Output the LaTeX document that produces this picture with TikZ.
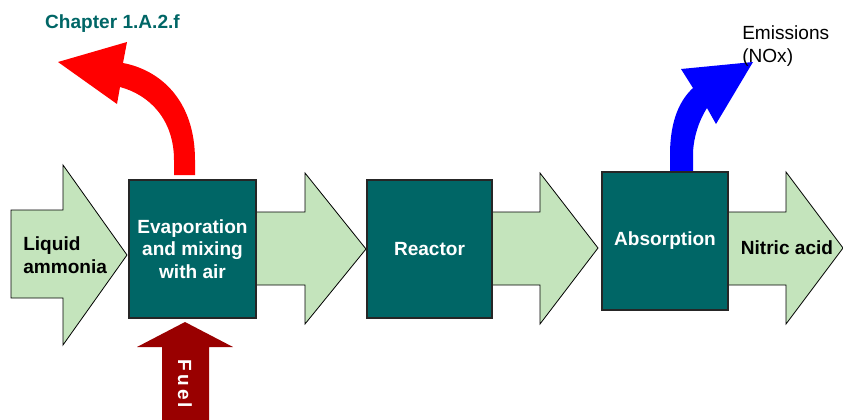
\documentclass[tikz,border=0pt]{standalone}
\usepackage{fontspec}
\setmainfont{Liberation Sans}
\usepackage{xcolor}
\definecolor{unitteal}{RGB}{0,102,102}
\definecolor{streamgreen}{RGB}{196,228,188}
\definecolor{fuelred}{RGB}{153,0,0}

\begin{document}
\begin{tikzpicture}[x=0.75pt, y=-0.75pt,
    unit/.style={draw=black!85, line width=0.8pt, fill=unitteal, text=white, align=center, inner sep=0pt,
        font=\bfseries\fontsize{14.3}{17}\selectfont},
    stream/.style={draw=black, line width=0.6pt, fill=streamgreen},
    streamtext/.style={inner sep=0pt, align=left, font=\bfseries\fontsize{14.3}{17}\selectfont}]
    \useasboundingbox (0,0) rectangle (843,419);
    % material streams
    \draw[stream] (11,210) -- (63,210) -- (63,165) -- (127,255) -- (63,345) -- (63,298) -- (11,298) -- cycle;
    \draw[stream] (256,212) -- (305,212) -- (305,173) -- (366,249) -- (305,324) -- (305,285) -- (256,285) -- cycle;
    \draw[stream] (492,212) -- (540,212) -- (540,173) -- (598,248) -- (540,324) -- (540,285) -- (492,285) -- cycle;
    \draw[stream] (728,212) -- (786,212) -- (786,172) -- (843,248) -- (786,324) -- (786,285) -- (728,285) -- cycle;
    % fuel input
    \fill[fuelred] (162,420) -- (162,347) -- (137,347) -- (185,322) -- (233,347) -- (209,347) -- (209,420) -- cycle;
    % off-gas arrows
    \fill[red] (195,175) -- (195,160) .. controls (195,100) and (160,70) .. (123,63) -- (127,42) -- (58,62)
        -- (117,104) -- (120,87) .. controls (150,95) and (174,120) .. (174,160) -- (174,175) -- cycle;
    \fill[blue] (670,172) -- (670,155) .. controls (670,120) and (680,100) .. (693,88) -- (681,69) -- (753,62)
        -- (716,124) -- (707,108) .. controls (698,122) and (693,140) .. (693,155) -- (693,172) -- cycle;
    % process units
    \node[unit, minimum width=95.25pt, minimum height=103.5pt] (evap) at (192.5,249) {Evaporation\\and mixing\\with air};
    \node[unit, minimum width=93.75pt, minimum height=103.5pt] (reactor) at (429.5,249) {Reactor};
    \node[unit, minimum width=94.5pt, minimum height=103.5pt] (absorb) at (665,241) {Absorption};
    % labels
    \node[streamtext, anchor=west] (ammonia) at (23,255) {Liquid\\ammonia};
    \node[streamtext] (nitric) at (787,248) {Nitric acid};
    \node[streamtext, text=unitteal] (chapter) at (112.5,24) {Chapter 1.A.2.f};
    \node[inner sep=0pt, align=left, anchor=west, font=\fontsize{14.3}{17}\selectfont] (emis) at (742,46) {Emissions\\(NOx)};
    \node[streamtext, text=white, rotate=-90] (fuel) at (185,384) {\addfontfeatures{LetterSpace=16}Fuel};
\end{tikzpicture}
\end{document}
